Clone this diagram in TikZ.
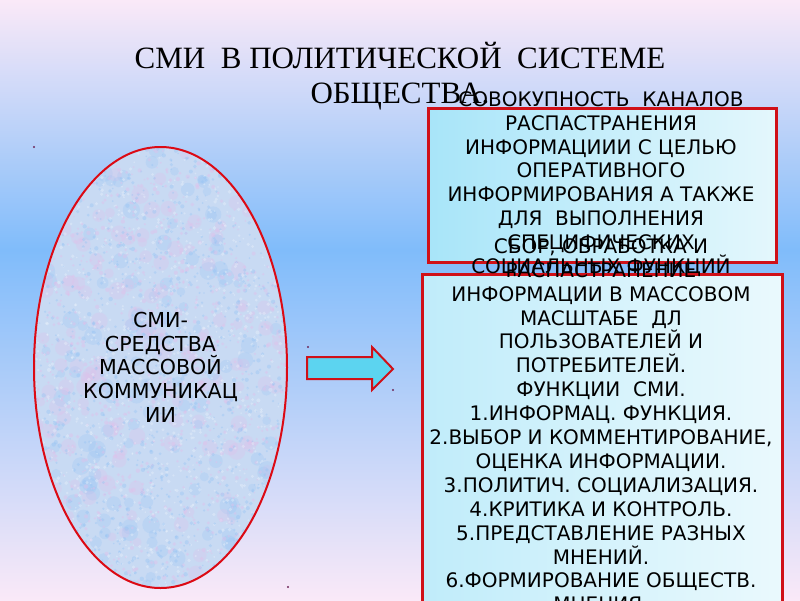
\documentclass[tikz,border=0pt]{standalone}
\usepackage{fontspec}
\setmainfont{DejaVu Sans}
\newfontfamily\titlefont{Liberation Serif}
\usetikzlibrary{shapes.geometric}
\definecolor{bgpink}{RGB}{250,233,248}
\definecolor{bgblue}{RGB}{128,188,250}
\definecolor{boxred}{RGB}{208,16,24}
\definecolor{ellred}{RGB}{220,10,20}
\definecolor{topL}{RGB}{168,229,249}
\definecolor{topR}{RGB}{228,247,252}
\definecolor{botL}{RGB}{192,236,250}
\definecolor{botR}{RGB}{234,249,253}
\definecolor{ellfill}{RGB}{200,218,243}
\definecolor{speckpink}{RGB}{226,190,234}
\definecolor{speckblue}{RGB}{150,196,244}
\definecolor{speckwhite}{RGB}{234,242,252}
\definecolor{arrowcyan}{RGB}{92,212,240}
\definecolor{dotc}{RGB}{110,40,90}
\begin{document}
\begin{tikzpicture}[x=1pt,y=-1pt,
  boxtext/.style={anchor=base, inner sep=0pt, font=\fontsize{20}{24}\selectfont},
  elltext/.style={anchor=base, inner sep=0pt, font=\fontsize{20.6}{24}\selectfont},
  titletext/.style={anchor=base, inner sep=0pt, font=\titlefont\fontsize{31}{35}\selectfont},
  panel/.style={draw=boxred, line width=2.5pt, anchor=north west, inner sep=0pt},
  dotmark/.style={fill=dotc}]
\clip (0,0) rectangle (800,600);
% background
\shade[top color=bgpink, bottom color=bgblue] (0,0) rectangle (800,250);
\shade[top color=bgblue, bottom color=bgpink] (0,250) rectangle (800,600);
% title
\node[titletext] (title1) at (400,68) {СМИ\ \ В ПОЛИТИЧЕСКОЙ\ \ СИСТЕМЕ};
\node[titletext] (title2) at (400,103) {ОБЩЕСТВА.};
% ellipse
\node[ellipse, fill=ellfill, minimum width=253pt, minimum height=441pt, inner sep=0pt] (smi) at (160.5,367.5) {};
\begin{scope}
  \clip (smi.center) ellipse [x radius=126.5, y radius=220.5];
  \pgfmathsetseed{11}
  \foreach \k in {1,...,160}{
    \fill[speckpink, opacity=0.25] ({34+253*rnd},{147+441*rnd}) circle ({4+5*rnd});
    \fill[speckblue, opacity=0.25] ({34+253*rnd},{147+441*rnd}) circle ({4+5*rnd});
  }
  \foreach \k in {1,...,1100}{
    \fill[speckpink, opacity=0.4] ({34+253*rnd},{147+441*rnd}) circle ({0.8+1.4*rnd});
    \fill[speckblue, opacity=0.4] ({34+253*rnd},{147+441*rnd}) circle ({0.8+1.4*rnd});
    \fill[speckwhite, opacity=0.4] ({34+253*rnd},{147+441*rnd}) circle ({0.8+1.2*rnd});
  }
\end{scope}
\draw[ellred, line width=2pt] (smi.center) ellipse [x radius=126.5, y radius=220.5];
\foreach \t [count=\i from 0] in {СМИ-, СРЕДСТВА, МАССОВОЙ, КОММУНИКАЦ, ИИ}
  \node[elltext] (smiline\i) at (160.5,{327.3+23.8*\i}) {\t};
% arrow
\draw[boxred, line width=2pt, fill=arrowcyan, line join=miter]
  (307,357) -- (372,357) -- (372,347) -- (393,369) -- (372,390) -- (372,379) -- (307,379) -- cycle;
% panels
\node[panel, left color=topL, right color=topR, minimum width=348pt, minimum height=154pt] (topbox) at (427,107) {};
\node[panel, left color=botL, right color=botR, minimum width=360pt, minimum height=360pt] (botbox) at (421,273) {};
\foreach \t [count=\i from 0] in {СОВОКУПНОСТЬ\ \ КАНАЛОВ, РАСПАСТРАНЕНИЯ, ИНФОРМАЦИИИ С ЦЕЛЬЮ, ОПЕРАТИВНОГО, ИНФОРМИРОВАНИЯ А ТАКЖЕ, ДЛЯ\ \ ВЫПОЛНЕНИЯ, СПЕЦИФИЧЕСКИХ, СОЦИАЛЬНЫХ ФУНКЦИЙ}
  \node[boxtext] (topline\i) at (601,{106.5+23.8*\i}) {\t};
\foreach \t [count=\i from 0] in {{СБОР, ОБРАБОТКА И}, РАСПАСТРАНЕНИЕ, ИНФОРМАЦИИ В МАССОВОМ, МАСШТАБЕ\ \ ДЛ, ПОЛЬЗОВАТЕЛЕЙ И, ПОТРЕБИТЕЛЕЙ., ФУНКЦИИ\ \ СМИ., 1.ИНФОРМАЦ. ФУНКЦИЯ., {2.ВЫБОР И КОММЕНТИРОВАНИЕ,}, ОЦЕНКА ИНФОРМАЦИИ., 3.ПОЛИТИЧ. СОЦИАЛИЗАЦИЯ., 4.КРИТИКА И КОНТРОЛЬ., 5.ПРЕДСТАВЛЕНИЕ РАЗНЫХ, МНЕНИЙ., 6.ФОРМИРОВАНИЕ ОБЩЕСТВ., МНЕНИЯ.}
  \node[boxtext] (botline\i) at (601,{253.3+23.9*\i}) {\t};
% dots
\fill[dotmark] (34,147) circle (1.2);
\fill[dotmark] (308,347) circle (1.2);
\fill[dotmark] (393,390) circle (1.2);
\fill[dotmark] (288,587) circle (1.2);
\end{tikzpicture}
\end{document}
